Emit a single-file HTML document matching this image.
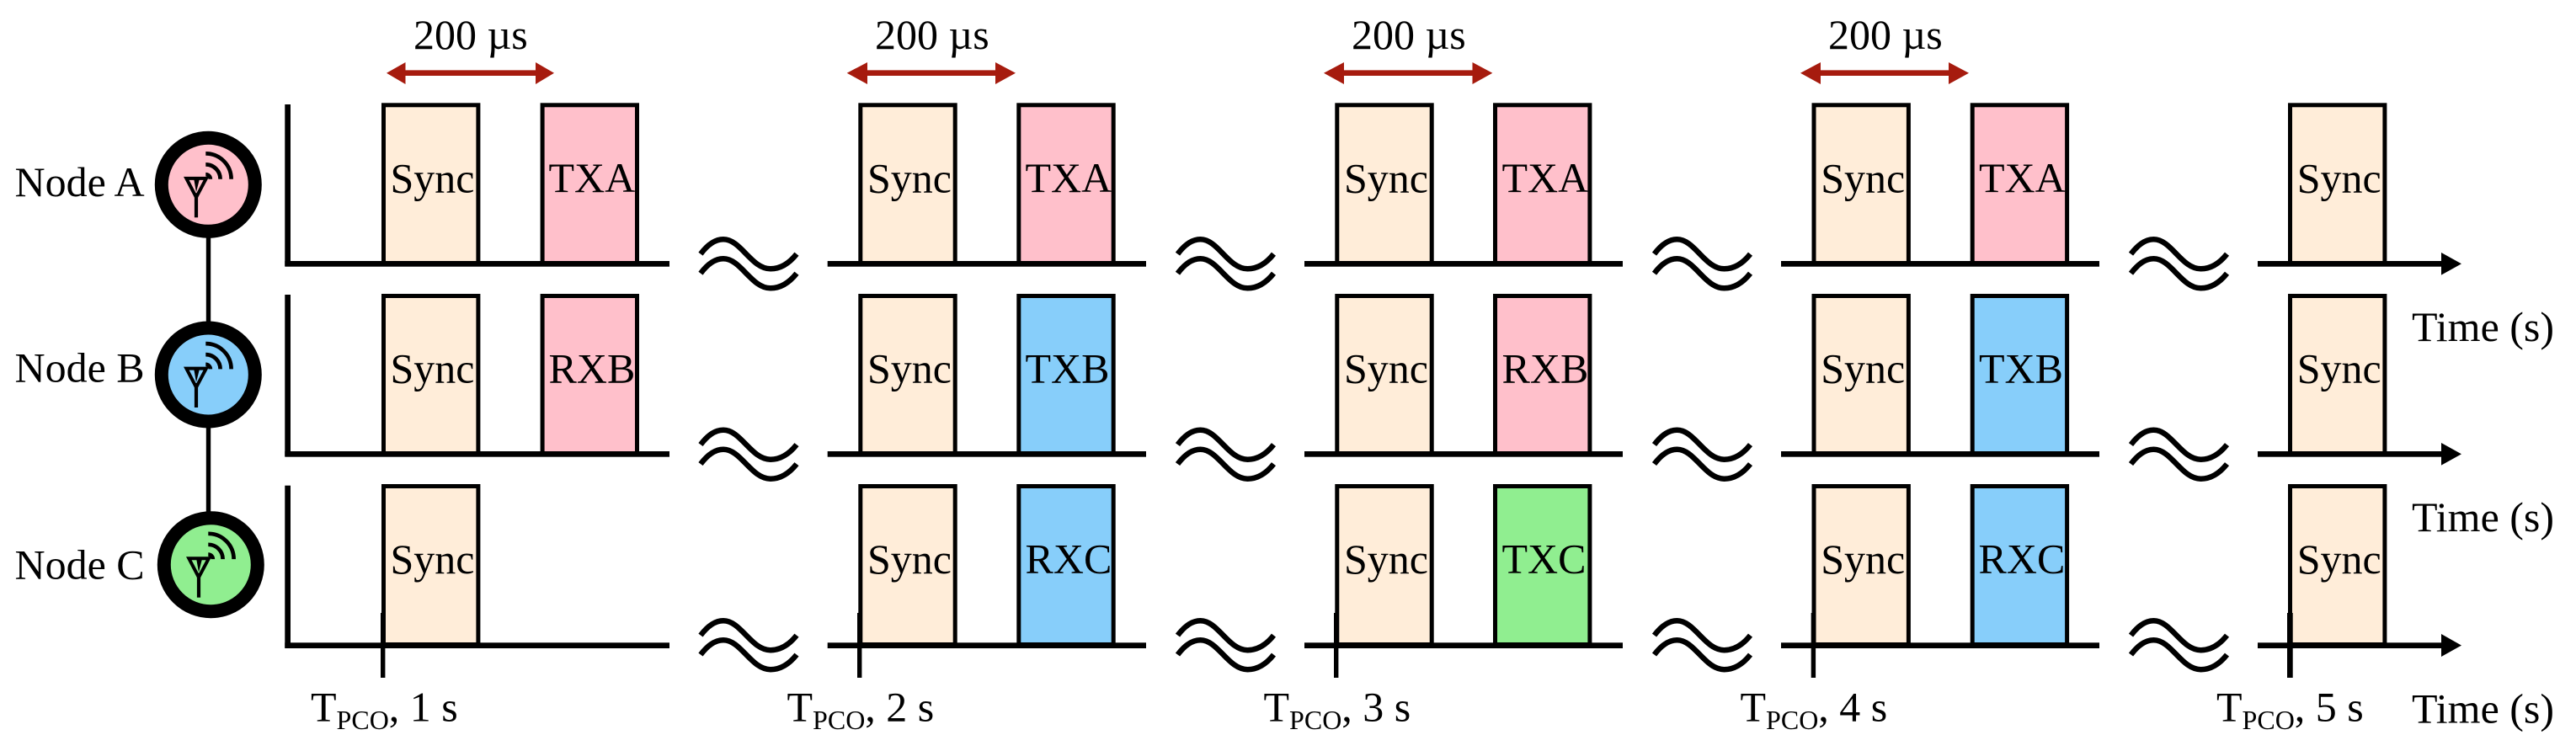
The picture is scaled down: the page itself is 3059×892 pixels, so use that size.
<!DOCTYPE html>
<html>
<head>
<meta charset="utf-8">
<style>
html,body{margin:0;padding:0;background:#fff;width:3059px;height:892px;overflow:hidden}
svg{display:block}
text{font-family:"Liberation Serif",serif;font-size:50px;fill:#000}
.s{fill:#FFEDD9;stroke:#000;stroke-width:5}
.p{fill:#FFC0CB;stroke:#000;stroke-width:5}
.b{fill:#87CEFA;stroke:#000;stroke-width:5}
.g{fill:#90EE90;stroke:#000;stroke-width:5}
.w{fill:none;stroke:#000;stroke-width:6.5}
</style>
</head>
<body>
<svg xmlns="http://www.w3.org/2000/svg" width="3059" height="892" viewBox="0 0 3059 892">
<defs>
<g id="wave">
<path class="w" d="M2,-11.6 Q15,-29 29,-29 C50,-29 62,6 85,6 Q102,6 116,-11.6"/>
<path class="w" d="M2,11.4 Q15,-6 29,-6 C50,-6 62,29 85,29 Q102,29 116,11.4"/>
</g>
<g id="ant">
<path d="M-26,-7.4 L-2.4,-7.4 L-14.3,15 Z" fill="none" stroke="#000" stroke-width="4"/>
<path d="M-17.3,-8 L-10,-8 L-14.3,9 Z" fill="#000"/>
<path d="M-14.3,10 V39" stroke="#000" stroke-width="4.2" fill="none"/>
<g fill="none" stroke="#000" stroke-width="4.7">
<path d="M-3,-36.9 A30.3,30.3 0 0 1 27.3,-6.6"/>
<path d="M-3,-23.9 A17.3,17.3 0 0 1 14.3,-6.6"/>
<path d="M-3,-12.1 A5.5,5.5 0 0 1 2.5,-6.6"/>
</g>
</g>
</defs>

<!-- node link -->
<rect x="244.8" y="219" width="5.4" height="451" fill="#000"/>

<!-- nodes -->
<g transform="translate(247.3,219.3)"><circle r="55.5" fill="#FFC0CB" stroke="#000" stroke-width="16"/><use href="#ant"/></g>
<g transform="translate(247.3,445)"><circle r="55.5" fill="#87CEFA" stroke="#000" stroke-width="16"/><use href="#ant"/></g>
<g transform="translate(250.3,670.7)"><circle r="55.5" fill="#90EE90" stroke="#000" stroke-width="16"/><use href="#ant"/></g>

<text x="17.5" y="233">Node A</text>
<text x="17.5" y="453.5">Node B</text>
<text x="17.5" y="687.3">Node C</text>

<!-- vertical axes -->
<rect x="338.3" y="124" width="6.7" height="192" fill="#000"/>
<rect x="338.3" y="350" width="6.7" height="192" fill="#000"/>
<rect x="338.3" y="576.7" width="6.7" height="193" fill="#000"/>

<!-- sync boxes row 1 -->
<rect class="s" x="455.5" y="124.8" width="112.4" height="188"/>
<rect class="s" x="1021.8" y="124.8" width="112.4" height="188"/>
<rect class="s" x="1587.8" y="124.8" width="112.4" height="188"/>
<rect class="s" x="2154" y="124.8" width="112.4" height="188"/>
<rect class="s" x="2719.5" y="124.8" width="112.4" height="188"/>
<!-- row 2 -->
<rect class="s" x="455.5" y="351.5" width="112.4" height="187"/>
<rect class="s" x="1021.8" y="351.5" width="112.4" height="187"/>
<rect class="s" x="1587.8" y="351.5" width="112.4" height="187"/>
<rect class="s" x="2154" y="351.5" width="112.4" height="187"/>
<rect class="s" x="2719.5" y="351.5" width="112.4" height="187"/>
<!-- row 3 -->
<rect class="s" x="455.5" y="577.5" width="112.4" height="188"/>
<rect class="s" x="1021.8" y="577.5" width="112.4" height="188"/>
<rect class="s" x="1587.8" y="577.5" width="112.4" height="188"/>
<rect class="s" x="2154" y="577.5" width="112.4" height="188"/>
<rect class="s" x="2719.5" y="577.5" width="112.4" height="188"/>

<!-- data boxes -->
<rect class="p" x="644.1" y="124.8" width="112.4" height="188"/>
<rect class="p" x="1209.8" y="124.8" width="112.4" height="188"/>
<rect class="p" x="1775.5" y="124.8" width="112.4" height="188"/>
<rect class="p" x="2342.2" y="124.8" width="112.4" height="188"/>

<rect class="p" x="644.1" y="351.5" width="112.4" height="187"/>
<rect class="b" x="1209.8" y="351.5" width="112.4" height="187"/>
<rect class="p" x="1775.5" y="351.5" width="112.4" height="187"/>
<rect class="b" x="2342.2" y="351.5" width="112.4" height="187"/>

<rect class="b" x="1209.8" y="577.5" width="112.4" height="188"/>
<rect class="g" x="1775.5" y="577.5" width="112.4" height="188"/>
<rect class="b" x="2342.2" y="577.5" width="112.4" height="188"/>

<!-- horizontal axes -->
<g fill="#000">
<rect x="338.3" y="310" width="456.7" height="6.7"/>
<rect x="982.7" y="310" width="378.3" height="6.7"/>
<rect x="1549" y="310" width="378" height="6.7"/>
<rect x="2115" y="310" width="378" height="6.7"/>
<rect x="2681" y="310" width="220" height="6.7"/>
<polygon points="2899,300 2923,313.3 2899,326.6"/>

<rect x="338.3" y="536" width="456.7" height="6.7"/>
<rect x="982.7" y="536" width="378.3" height="6.7"/>
<rect x="1549" y="536" width="378" height="6.7"/>
<rect x="2115" y="536" width="378" height="6.7"/>
<rect x="2681" y="536" width="220" height="6.7"/>
<polygon points="2899,526 2923,539.3 2899,552.6"/>

<rect x="338.3" y="763.3" width="456.7" height="6.7"/>
<rect x="982.7" y="763.3" width="378.3" height="6.7"/>
<rect x="1549" y="763.3" width="378" height="6.7"/>
<rect x="2115" y="763.3" width="378" height="6.7"/>
<rect x="2681" y="763.3" width="220" height="6.7"/>
<polygon points="2899,753 2923,766.6 2899,780"/>

<!-- ticks -->
<rect x="452" y="728" width="5.4" height="77"/>
<rect x="1018" y="728" width="5.4" height="77"/>
<rect x="1584" y="728" width="5.4" height="77"/>
<rect x="2150.7" y="728" width="5.4" height="77"/>
<rect x="2716" y="728" width="6.7" height="77"/>
</g>

<!-- break waves -->
<use href="#wave" x="830" y="313.3"/>
<use href="#wave" x="1396.5" y="313.3"/>
<use href="#wave" x="1962.5" y="313.3"/>
<use href="#wave" x="2528.5" y="313.3"/>
<use href="#wave" x="830" y="539.7"/>
<use href="#wave" x="1396.5" y="539.7"/>
<use href="#wave" x="1962.5" y="539.7"/>
<use href="#wave" x="2528.5" y="539.7"/>
<use href="#wave" x="830" y="766.2"/>
<use href="#wave" x="1396.5" y="766.2"/>
<use href="#wave" x="1962.5" y="766.2"/>
<use href="#wave" x="2528.5" y="766.2"/>

<!-- 200us arrows -->
<g fill="#A61B0E">
<polygon points="459,86.7 481.5,74 481.5,83.4 636,83.4 636,74 658,86.7 636,100 636,90 481.5,90 481.5,100"/>
<polygon points="1005.7,86.7 1030,74 1030,83.4 1182,83.4 1182,74 1206,86.7 1182,100 1182,90 1030,90 1030,100"/>
<polygon points="1572,86.7 1596,74 1596,83.4 1748.5,83.4 1748.5,74 1772.3,86.7 1748.5,100 1748.5,90 1596,90 1596,100"/>
<polygon points="2138,86.7 2162,74 2162,83.4 2314,83.4 2314,74 2338,86.7 2314,100 2314,90 2162,90 2162,100"/>
</g>
<text x="491" y="58">200 µs</text>
<text x="1039" y="58">200 µs</text>
<text x="1605" y="58">200 µs</text>
<text x="2171" y="58">200 µs</text>

<!-- box labels -->
<text x="463.5" y="228.3">Sync</text>
<text x="1030" y="228.3">Sync</text>
<text x="1596" y="228.3">Sync</text>
<text x="2162.2" y="228.3">Sync</text>
<text x="2727.7" y="228.3">Sync</text>
<text x="463.5" y="454.6">Sync</text>
<text x="1030" y="454.6">Sync</text>
<text x="1596" y="454.6">Sync</text>
<text x="2162.2" y="454.6">Sync</text>
<text x="2727.7" y="454.6">Sync</text>
<text x="463.5" y="681">Sync</text>
<text x="1030" y="681">Sync</text>
<text x="1596" y="681">Sync</text>
<text x="2162.2" y="681">Sync</text>
<text x="2727.7" y="681">Sync</text>

<text x="651.5" y="228">TXA</text>
<text x="1217.5" y="228">TXA</text>
<text x="1783.5" y="228">TXA</text>
<text x="2350" y="228">TXA</text>
<text x="651.5" y="454.3">RXB</text>
<text x="1217.5" y="454.3">TXB</text>
<text x="1783.5" y="454.3">RXB</text>
<text x="2350" y="454.3">TXB</text>
<text x="1217.5" y="680.7">RXC</text>
<text x="1783.5" y="680.7">TXC</text>
<text x="2349.5" y="680.7">RXC</text>

<!-- T_PCO labels -->
<text x="369" y="856.7">T<tspan font-size="32" dy="9.3">PCO</tspan><tspan dy="-9.3">, 1 s</tspan></text>
<text x="934.5" y="856.7">T<tspan font-size="32" dy="9.3">PCO</tspan><tspan dy="-9.3">, 2 s</tspan></text>
<text x="1500.5" y="856.7">T<tspan font-size="32" dy="9.3">PCO</tspan><tspan dy="-9.3">, 3 s</tspan></text>
<text x="2066.5" y="856.7">T<tspan font-size="32" dy="9.3">PCO</tspan><tspan dy="-9.3">, 4 s</tspan></text>
<text x="2632" y="856.7">T<tspan font-size="32" dy="9.3">PCO</tspan><tspan dy="-9.3">, 5 s</tspan></text>

<!-- Time labels -->
<text x="2864" y="405">Time (s)</text>
<text x="2864" y="631">Time (s)</text>
<text x="2864" y="858.4">Time (s)</text>
</svg>
</body>
</html>
